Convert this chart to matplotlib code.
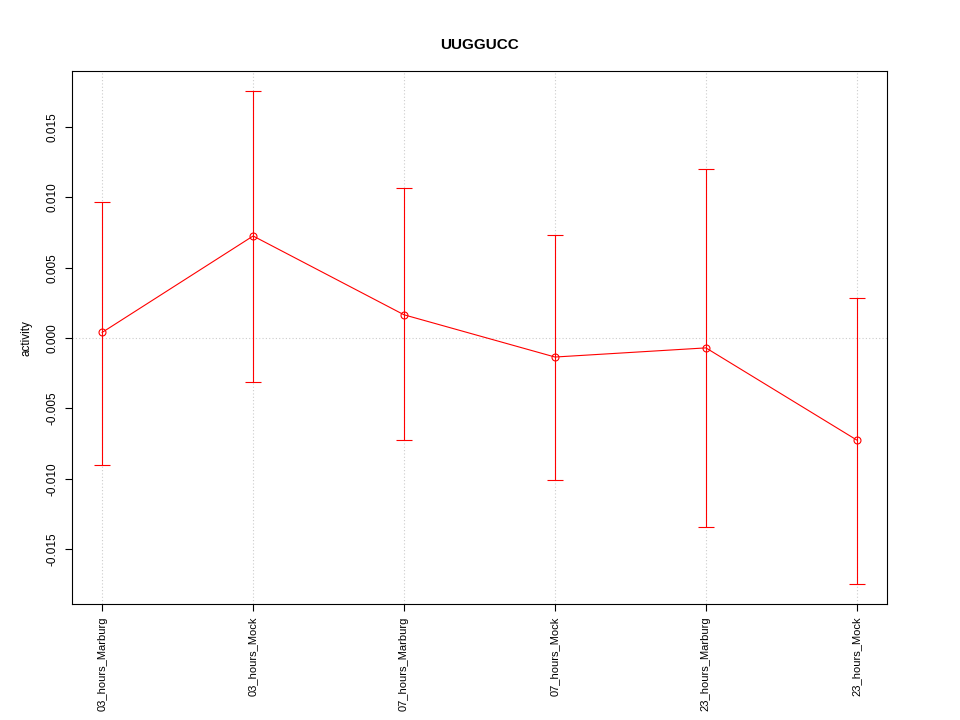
import matplotlib
matplotlib.use("Agg")
import matplotlib.pyplot as plt
import numpy as np

# values
labels = ["03_hours_Marburg", "03_hours_Mock", "07_hours_Marburg",
          "07_hours_Mock", "23_hours_Marburg", "23_hours_Mock"]
activity = [0.0004, 0.00725, 0.00165, -0.00135, -0.0007, -0.00725]
upper = [0.0097, 0.01755, 0.01065, 0.0073, 0.0120, 0.00285]
lower = [-0.0090, -0.0031, -0.00725, -0.0101, -0.01345, -0.0175]

plt.rcParams['font.family'] = ['Liberation Sans', 'DejaVu Sans']

fig = plt.figure(figsize=(9.6, 7.2), dpi=100)
ax = fig.add_axes([0.075, 0.161, 0.849, 0.740])

x = np.arange(len(labels))
act = np.array(activity)
yerr = [act - np.array(lower), np.array(upper) - act]

# grid: vertical at each category, horizontal at zero
for xi in x:
    ax.axvline(xi, color="#cccccc", linestyle=(0, (1, 2)), linewidth=0.8, zorder=0)
ax.axhline(0, color="#cccccc", linestyle=(0, (1, 2)), linewidth=0.8, zorder=0)

ax.errorbar(x, act, yerr=yerr, color="red", linewidth=0.8, elinewidth=0.8,
            capsize=5.5, capthick=0.8, marker="o", markersize=5,
            markerfacecolor="none", markeredgewidth=0.8)

lo = min(lower)
hi = max(upper)
pad = 0.04 * (hi - lo)
ax.set_ylim(lo - pad, hi + pad)
ax.set_xlim(-0.2, len(labels) - 1 + 0.2)

ax.set_xticks(x)
ax.set_xticklabels(labels, rotation=90, fontsize=8)
yt = [-0.015, -0.010, -0.005, 0.0, 0.005, 0.010, 0.015]
ax.set_yticks(yt)
ax.set_yticklabels(["%.3f" % v for v in yt], rotation=90, va="center", fontsize=8.5)
ax.tick_params(axis="x", direction="out", length=5, width=0.8, pad=4)
ax.tick_params(axis="y", direction="out", length=5, width=0.8, pad=5)
ax.set_ylabel("activity", fontsize=8.5, labelpad=10)
ax.set_title("UUGGUCC", fontsize=11, fontweight="bold", pad=16)

for s in ax.spines.values():
    s.set_linewidth(0.8)

fig.savefig("out.png", dpi=100)
